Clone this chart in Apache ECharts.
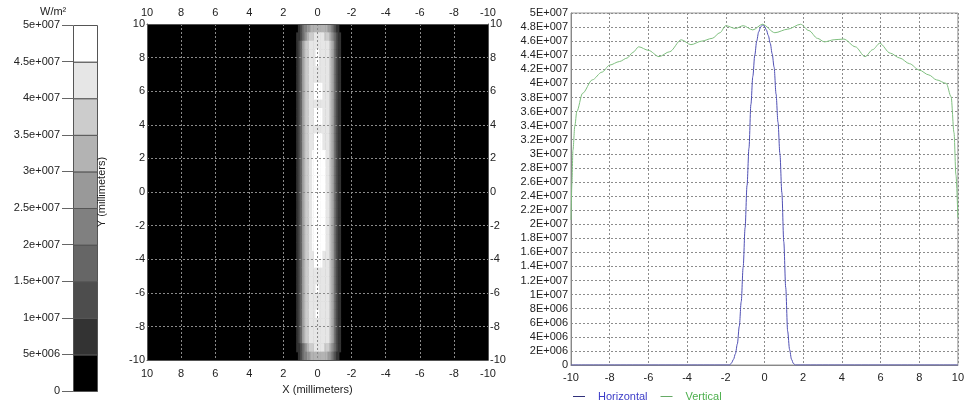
<!DOCTYPE html>
<html><head><meta charset="utf-8">
<script src="https://cdn.jsdelivr.net/npm/echarts@6/dist/echarts.min.js"></script>
<style>html,body{margin:0;padding:0;background:#fff}#c{width:967px;height:400px}</style>
</head><body><div id="c"></div>
<script>
// ---- colour bar ----
const colorbarEdges = [0, 5e6, 1e7, 1.5e7, 2e7, 2.5e7, 3e7, 3.5e7, 4e7, 4.5e7, 5e7];
const grayLevels = ['#000000','#333333','#4d4d4d','#666666','#808080','#999999','#b3b3b3','#cccccc','#e6e6e6','#ffffff'];
const colorbarTitle = 'W/m\u00b2';

// ---- irradiance map (band level 0..9 per cell) ----
const heatX = [-1.3,-1.2,-1.1,-1.0,-0.9,-0.8,-0.7,-0.6,-0.5,-0.4,-0.3,-0.2,-0.1,0,0.1,0.2,0.3,0.4,0.5,0.6,0.7,0.8,0.9,1.0,1.1,1.2,1.3];
const heatY = [9.75,9.25,8.75,8.25,7.75,7.25,6.75,6.25,5.75,5.25,4.75,4.25,3.75,3.25,2.75,2.25,1.75,1.25,0.75,0.25,
               -0.25,-0.75,-1.25,-1.75,-2.25,-2.75,-3.25,-3.75,-4.25,-4.75,-5.25,-5.75,-6.25,-6.75,-7.25,-7.75,-8.25,-8.75,-9.25,-9.75];
const rowA = '112356788999999998877653210';
const rowB = '112356788888888888877653210';
const rowC = '112356788889999988877653210';
const rowF = '112356788888899888877653210';
const rowD = '112345677788888877765432110';
const rowE = '011234556666666666554432100';
const heatRows = [rowE,rowD,rowB,rowF,rowF,rowB,rowB,rowC,rowC,rowB,rowC,rowC,rowB,rowC,rowC,rowA,rowA,rowA,rowA,rowA,
                  rowA,rowA,rowA,rowA,rowA,rowA,rowA,rowC,rowC,rowB,rowB,rowF,rowB,rowB,rowF,rowB,rowB,rowB,rowD,rowE];

// ---- profiles ----
const horizontalX = [-10,-1.8,-1.7,-1.6,-1.5,-1.4,-1.3,-1.2,-1.1,-1.0,-0.9,-0.8,-0.7,-0.6,-0.5,-0.4,-0.3,-0.2,-0.1,0,
                     0.1,0.2,0.3,0.4,0.5,0.6,0.7,0.8,0.9,1.0,1.1,1.2,1.3,1.4,1.5,1.6,10];
const horizontalV = [0,0,0.3e6,0.8e6,1.6e6,3.0e6,5.5e6,9.0e6,13.9e6,19.5e6,25.5e6,30.8e6,37.0e6,41.0e6,44.0e6,46.0e6,47.3e6,48.0e6,48.3e6,48.1e6,
                     47.6e6,46.8e6,45.7e6,44.2e6,42.3e6,38.5e6,34.5e6,30.0e6,24.5e6,17.5e6,11.0e6,4.8e6,2.2e6,0.8e6,0.2e6,0,0];
const verticalX = [-10,-9.95,-9.9,-9.8,-9.7,-9.4,-8.9,-8.4,-8.0,-7.5,-7.1,-6.8,-6.5,-6.0,-5.45,-4.9,-4.3,-3.8,-3.25,-2.7,-2.3,-2.0,-1.5,-1.1,-0.6,-0.1,
                   0.54,1.2,1.87,2.3,2.74,3.1,3.6,4.1,4.7,5.2,5.6,5.96,6.5,7.0,7.5,8.0,8.5,8.9,9.4,9.65,9.8,9.9,10];
const verticalV = [20.6e6,25.9e6,30.5e6,34.0e6,36.0e6,38.6e6,40.5e6,41.6e6,42.6e6,43.1e6,43.6e6,44.4e6,45.2e6,44.7e6,43.8e6,44.5e6,46.2e6,45.5e6,46.0e6,46.4e6,47.2e6,48.2e6,47.8e6,48.2e6,47.6e6,48.4e6,
                   47.2e6,47.7e6,48.4e6,47.5e6,46.4e6,45.9e6,46.2e6,46.3e6,45.2e6,43.8e6,44.8e6,45.7e6,44.3e6,43.6e6,42.8e6,41.9e6,41.2e6,40.5e6,40.0e6,38.1e6,33.0e6,27.0e6,20.9e6];
const seriesNames = ['Horizontal', 'Vertical'];

const FONT = 'Liberation Sans, Arial, sans-serif';
function sci(v, upper) {
  if (v === 0) return '0';
  const e = Math.floor(Math.log10(Math.abs(v)) + 1e-9);
  const m = Math.round(v / Math.pow(10, e) * 1000) / 1000;
  return m + (upper ? 'E' : 'e') + '+' + String(e).padStart(3, '0');
}

const barData = [];
for (let i = 0; i < colorbarEdges.length - 1; i++) barData.push([colorbarEdges[i], colorbarEdges[i + 1], i]);
const heatData = [];
heatRows.forEach((row, r) => {
  for (let c = 0; c < heatX.length; c++) {
    const lv = +row[c];
    if (lv > 0) heatData.push([heatX[c], heatY[r], lv]);
  }
});
const hData = horizontalX.map((x, i) => [x, horizontalV[i]]);
const vData = verticalX.map((x, i) => [x, verticalV[i]]);

const lbl = {fontFamily: FONT, fontSize: 11, color: '#222'};
const dotGridDark = {show: true, lineStyle: {color: '#8a8a8a', type: [2, 2], width: 1}};
const dotGridLight = {show: true, lineStyle: {color: '#8c8c8c', type: [2, 2], width: 1}};
const line = c => ({show: true, onZero: false, lineStyle: {color: c}});

const chart = echarts.init(document.getElementById('c'), null, {renderer: 'canvas'});
chart.setOption({
  animation: false,
  backgroundColor: '#fff',
  textStyle: {fontFamily: FONT},
  graphic: [{type: 'text', left: 40, top: 6, style: {text: colorbarTitle, font: '11px ' + FONT, fill: '#222'}}],
  legend: {
    left: 568, top: 386, itemWidth: 12, itemHeight: 1, itemGap: 13, icon: 'rect',
    textStyle: {fontFamily: FONT, fontSize: 11, padding: [0, 0, 0, 8]},
    data: [{name: seriesNames[0], textStyle: {color: '#3c3cc8'}, itemStyle: {color: '#30307a'}},
           {name: seriesNames[1], textStyle: {color: '#4caf4c'}, itemStyle: {color: '#66aa66'}}]
  },
  grid: [
    {left: 73, top: 25, width: 24, height: 366},
    {left: 147, top: 24, width: 341, height: 342, show: true, backgroundColor: '#000', borderWidth: 0},
    {left: 571, top: 13, width: 391, height: 352, show: true, backgroundColor: '#fff', borderColor: '#999', borderWidth: 1}
  ],
  xAxis: [
    {gridIndex: 0, type: 'value', min: 0, max: 1, show: false},
    {gridIndex: 1, type: 'value', min: -10, max: 10, interval: 2, inverse: true, position: 'bottom', z: 10,
     name: 'X (millimeters)', nameLocation: 'middle', nameGap: 21, nameTextStyle: lbl,
     axisLine: line('#555'), axisTick: {show: false},
     axisLabel: Object.assign({margin: 8}, lbl), splitLine: dotGridDark},
    {gridIndex: 1, type: 'value', min: -10, max: 10, interval: 2, inverse: true, position: 'top', z: 10,
     axisLine: line('#555'), axisTick: {show: false},
     axisLabel: Object.assign({margin: 6}, lbl), splitLine: {show: false}},
    {gridIndex: 2, type: 'value', min: -10, max: 10, interval: 2,
     axisLine: line('#888'), axisTick: {show: false},
     axisLabel: Object.assign({margin: 7}, lbl), splitLine: dotGridLight}
  ],
  yAxis: [
    {gridIndex: 0, type: 'value', min: 0, max: 5e7, interval: 5e6,
     axisLine: {show: false}, axisTick: {show: true, length: 11, lineStyle: {color: '#666'}},
     axisLabel: Object.assign({margin: 13, formatter: v => sci(v, false)}, lbl), splitLine: {show: false}},
    {gridIndex: 1, type: 'value', min: -10, max: 10, interval: 2, position: 'left', z: 10,
     name: 'Y (millimeters)', nameLocation: 'middle', nameGap: 40, nameRotate: 90, nameTextStyle: lbl,
     axisLine: line('#555'), axisTick: {show: false},
     axisLabel: Object.assign({margin: 2}, lbl), splitLine: dotGridDark},
    {gridIndex: 1, type: 'value', min: -10, max: 10, interval: 2, position: 'right', z: 10,
     axisLine: line('#555'), axisTick: {show: false},
     axisLabel: Object.assign({margin: 2}, lbl), splitLine: {show: false}},
    {gridIndex: 2, type: 'value', min: 0, max: 5e7, interval: 2e6,
     axisLine: line('#888'), axisTick: {show: false},
     axisLabel: Object.assign({margin: 3, formatter: v => sci(v, true)}, lbl), splitLine: dotGridLight}
  ],
  series: [
    {type: 'custom', name: 'colorbar', xAxisIndex: 0, yAxisIndex: 0, data: barData, silent: true,
     renderItem: (params, api) => {
       const p1 = api.coord([0, api.value(1)]);
       const p2 = api.coord([1, api.value(0)]);
       return {type: 'rect', shape: {x: p1[0] + 0.5, y: p1[1] + 0.5, width: p2[0] - p1[0], height: p2[1] - p1[1]},
               style: {fill: grayLevels[api.value(2)], stroke: '#555', lineWidth: 1}};
     }},
    {type: 'custom', name: 'map', xAxisIndex: 1, yAxisIndex: 1, data: heatData, silent: true, clip: true,
     renderItem: (params, api) => {
       const x = api.value(0), y = api.value(1);
       const p1 = api.coord([x + 0.05, y + 0.25]);
       const p2 = api.coord([x - 0.05, y - 0.25]);
       const rx = Math.min(p1[0], p2[0]), ry = Math.min(p1[1], p2[1]);
       return {type: 'rect', shape: {x: rx, y: ry, width: Math.abs(p2[0] - p1[0]) + 0.6, height: Math.abs(p2[1] - p1[1]) + 0.6},
               style: {fill: grayLevels[api.value(2)]}};
     }},
    {type: 'line', name: seriesNames[0], xAxisIndex: 3, yAxisIndex: 3, data: hData, showSymbol: false,
     smooth: 0.3, smoothMonotone: 'x', lineStyle: {color: '#5050b4', width: 1}, itemStyle: {color: '#5050b4'}},
    {type: 'line', name: seriesNames[1], xAxisIndex: 3, yAxisIndex: 3, data: vData, showSymbol: false,
     smooth: 0.3, smoothMonotone: 'x', lineStyle: {color: '#7fc07f', width: 1}, itemStyle: {color: '#7fc07f'}}
  ]
});
</script></body></html>
